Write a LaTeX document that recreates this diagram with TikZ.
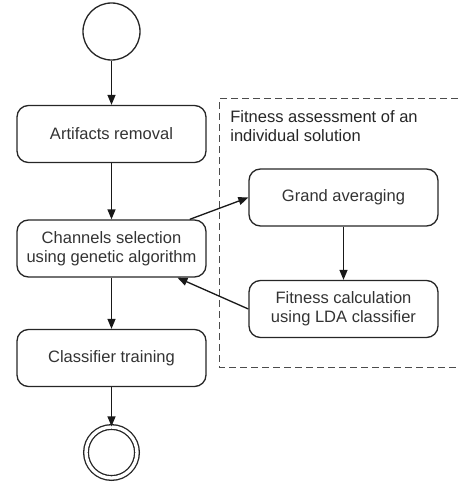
\documentclass[tikz,border=0pt]{standalone}
\usepackage{fontspec}
\setmainfont{Liberation Sans}
\usetikzlibrary{arrows.meta, positioning}

\tikzset{
  actbox/.style={draw=black!85, line width=0.75pt, rounded corners=6.5pt,
    minimum width=3.78cm, minimum height=1.14cm, align=center,
    text=black!80},
  startnode/.style={draw=black!85, line width=0.75pt, circle, minimum size=1.14cm},
  endnode/.style={draw=black!85, line width=0.75pt, circle, double=white,
    double distance=1.9pt, minimum size=1.02cm},
  flow/.style={-{Triangle[length=0.2cm, width=0.16cm]}, line width=0.75pt, draw=black!90}
}

\begin{document}
\begin{tikzpicture}[every node/.style={font=\fontsize{9.4}{10.9}\selectfont}]
  \useasboundingbox (0,0) rectangle (9.16,-9.7);
  % main chain on the left
  \node[startnode] (start) at (2.23,-0.63) {};
  \node[actbox] (ar) at (2.23,-2.68) {Artifacts removal};
  \node[actbox] (ch) at (2.23,-4.97) {Channels selection\\using genetic algorithm};
  \node[actbox] (ct) at (2.23,-7.16) {Classifier training};
  \node[endnode] (stop) at (2.23,-9.05) {};
  % fitness assessment, inside the dashed region
  \draw[dashed, dash pattern=on 0.14cm off 0.08cm, black!70, line width=0.6pt]
    (9.16,-1.97) -- (4.39,-1.97) -- (4.39,-7.35) -- (9.16,-7.35);
  \node[anchor=north west, align=left, text=black!85, inner sep=0pt] (fitlabel)
    at (4.6,-2.2) {Fitness assessment of an\\individual solution};
  \node[actbox] (ga) at (6.87,-3.95) {Grand averaging};
  \node[actbox] (fc) at (6.87,-6.18) {Fitness calculation\\using LDA classifier};

  \draw[flow] (start) -- (ar);
  \draw[flow] (ar) -- (ch);
  \draw[flow] (ch) -- (ct);
  \draw[flow] (ct) -- (stop);
  \draw[flow] (ch) -- (ga.west);
  \draw[flow] (ga) -- (fc);
  \draw[flow] (fc.west) -- (ch);
\end{tikzpicture}
\end{document}
